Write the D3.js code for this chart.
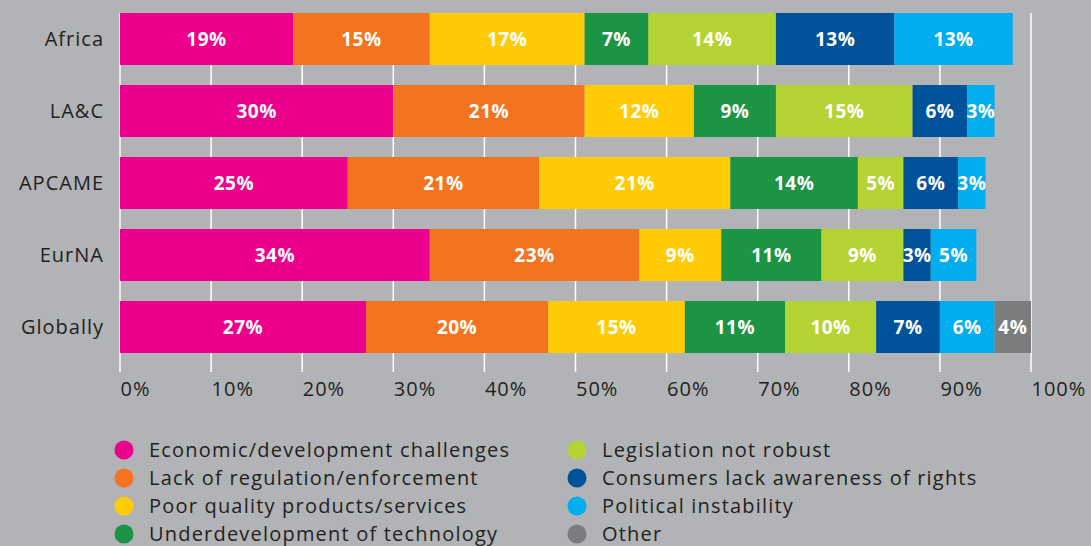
<!DOCTYPE html>
<html>
<head>
<meta charset="utf-8">
<script src="https://cdn.jsdelivr.net/npm/d3@7"></script>
<style>
  body { margin: 0; background: #b1b3b6; }
  svg { display: block; }
</style>
</head>
<body>
<div id="chart"></div>
<script>
// Data
const regions = ["Africa", "LA&C", "APCAME", "EurNA", "Globally"];
const reasons = [
    "Economic/development challenges",
    "Lack of regulation/enforcement",
    "Poor quality products/services",
    "Underdevelopment of technology",
    "Legislation not robust",
    "Consumers lack awareness of rights",
    "Political instability",
    "Other"
];
const colours = ["#ec008c", "#f47321", "#ffcb05", "#1b9444", "#b6d334", "#00529b", "#00aeef", "#7b7c7e"];

const africa   = [19, 15, 17, 7, 14, 13, 13, 0];
const lac      = [30, 21, 12, 9, 15, 6, 3, 0];
const apcame   = [25, 21, 21, 14, 5, 6, 3, 0];
const eurna    = [34, 23, 9, 11, 9, 3, 5, 0];
const globally = [27, 20, 15, 11, 10, 7, 6, 4];
const seriesValues = [africa, lac, apcame, eurna, globally];

const ticks = [0, 10, 20, 30, 40, 50, 60, 70, 80, 90, 100];

const width = 1091, height = 546;
const margin = { top: 13, left: 120, right: 60 };
const font = "'Open Sans', sans-serif";

const svg = d3.select("#chart").append("svg")
    .attr("width", width)
    .attr("height", height)
    .style("font-family", font);

svg.append("rect").attr("width", width).attr("height", height).attr("fill", "#b1b3b6");

// Scales
const x = d3.scaleLinear()
    .domain([0, 100])
    .range([margin.left, 1031]);

const y = d3.scaleBand()
    .domain(regions)
    .range([margin.top - 10, margin.top - 10 + 72 * regions.length])
    .paddingInner(20 / 72)
    .paddingOuter(10 / 72);

// Gridlines
svg.append("g")
    .selectAll("line")
    .data(ticks)
    .enter().append("line")
    .attr("x1", d => x(d))
    .attr("x2", d => x(d))
    .attr("y1", 13)
    .attr("y2", 372)
    .attr("stroke", "#ffffff")
    .attr("stroke-width", 1.5);

// Stack the rows
const rows = regions.map((r, i) => {
    const o = { region: r };
    reasons.forEach((k, j) => o[k] = seriesValues[i][j]);
    return o;
});
const stacked = d3.stack().keys(reasons)(rows);

const layers = svg.append("g")
    .selectAll("g")
    .data(stacked)
    .enter().append("g")
    .attr("fill", (d, i) => colours[i]);

layers.selectAll("rect")
    .data(d => d.filter(s => s[1] > s[0]))
    .enter().append("rect")
    .attr("x", d => x(d[0]))
    .attr("y", d => y(d.data.region))
    .attr("width", d => x(d[1]) - x(d[0]))
    .attr("height", y.bandwidth());

// Value labels
layers.selectAll("text")
    .data(d => d.filter(s => s[1] > s[0]))
    .enter().append("text")
    .attr("x", d => (x(d[0]) + x(d[1])) / 2)
    .attr("y", d => y(d.data.region) + y.bandwidth() / 2)
    .attr("dy", "0.36em")
    .attr("text-anchor", "middle")
    .attr("fill", "#ffffff")
    .attr("font-weight", "bold")
    .attr("font-size", "19px")
    .attr("letter-spacing", "0.5px")
    .text(d => `${d[1] - d[0]}%`);

// Y axis labels
svg.append("g")
    .selectAll("text")
    .data(regions)
    .enter().append("text")
    .attr("x", 104)
    .attr("y", d => y(d) + y.bandwidth() / 2)
    .attr("dy", "0.36em")
    .attr("text-anchor", "end")
    .attr("fill", "#231f20")
    .attr("font-size", "20px")
    .attr("letter-spacing", "1px")
    .text(d => d);

// X axis, labels start at the gridline
const xAxis = svg.append("g")
    .attr("transform", "translate(0,372)")
    .call(d3.axisBottom(x).tickValues(ticks).tickFormat(d => d + "%").tickSize(0).tickPadding(10));
xAxis.select(".domain").remove();
xAxis.selectAll("text")
    .attr("text-anchor", "start")
    .attr("font-family", font)
    .attr("font-size", "20px")
    .attr("letter-spacing", "1px")
    .attr("fill", "#231f20");

// Legend
const legend = svg.append("g")
    .selectAll("g")
    .data(reasons)
    .enter().append("g")
    .attr("transform", (d, i) => `translate(${i < 4 ? 124 : 577},${450 + (i % 4) * 28})`);

legend.append("circle")
    .attr("r", 9.5)
    .attr("fill", (d, i) => colours[i]);

legend.append("text")
    .attr("x", 25)
    .attr("dy", "0.36em")
    .attr("fill", "#231f20")
    .attr("font-size", "20px")
    .attr("letter-spacing", "1.2px")
    .text(d => d);
</script>
</body>
</html>
